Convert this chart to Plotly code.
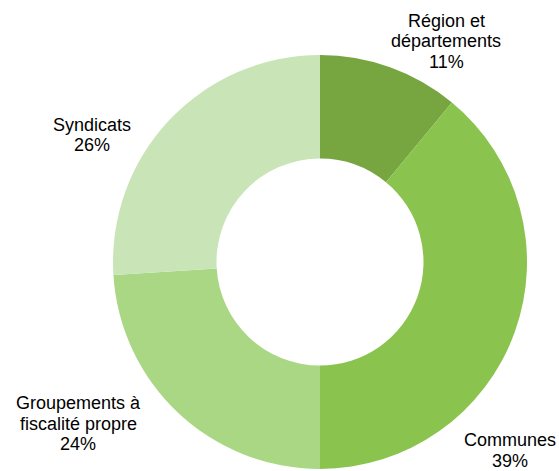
import plotly.graph_objects as go

# Data
names = ["Région et<br>départements", "Communes", "Groupements à<br>fiscalité propre", "Syndicats"]
values = [11, 39, 24, 26]
colors = ["#77A53F", "#8BC34F", "#A9D784", "#C9E5B7"]

# Label layout (pixel centres of label blocks, first line)
label_x = [446, 510, 78, 92]
label_y = [21, 440, 403, 124.5]
line_gap = 20.5

W, H = 559, 471
cx, cy, r = 320, 262, 207

fig = go.Figure(go.Pie(
    labels=[n.replace("<br>", " ") for n in names],
    values=values,
    marker=dict(colors=colors, line=dict(width=0)),
    hole=0.5,
    sort=False,
    direction="clockwise",
    rotation=0,
    textinfo="none",
    showlegend=False,
    domain=dict(x=[(cx - r) / W, (cx + r) / W],
                y=[(H - cy - r) / H, (H - cy + r) / H]),
))

total = sum(values)
annotations = []
for name, v, lx, ly in zip(names, values, label_x, label_y):
    lines = name.split("<br>") + [f"{round(100 * v / total)}%"]
    for i, line in enumerate(lines):
        annotations.append(dict(
            x=lx / W, y=1 - (ly + i * line_gap) / H,
            xref="paper", yref="paper",
            text=line, showarrow=False,
            xanchor="center", yanchor="middle",
            font=dict(family="Liberation Sans, Arial", size=18, color="#000000"),
        ))

fig.update_layout(
    width=W, height=H,
    margin=dict(l=0, r=0, t=0, b=0),
    paper_bgcolor="white",
    plot_bgcolor="white",
    annotations=annotations,
)

fig.write_html(
    "out.html",
    config={"displayModeBar": False},
    post_script="document.body.style.margin='0';document.documentElement.style.overflow='hidden';document.body.style.overflow='hidden';",
)
